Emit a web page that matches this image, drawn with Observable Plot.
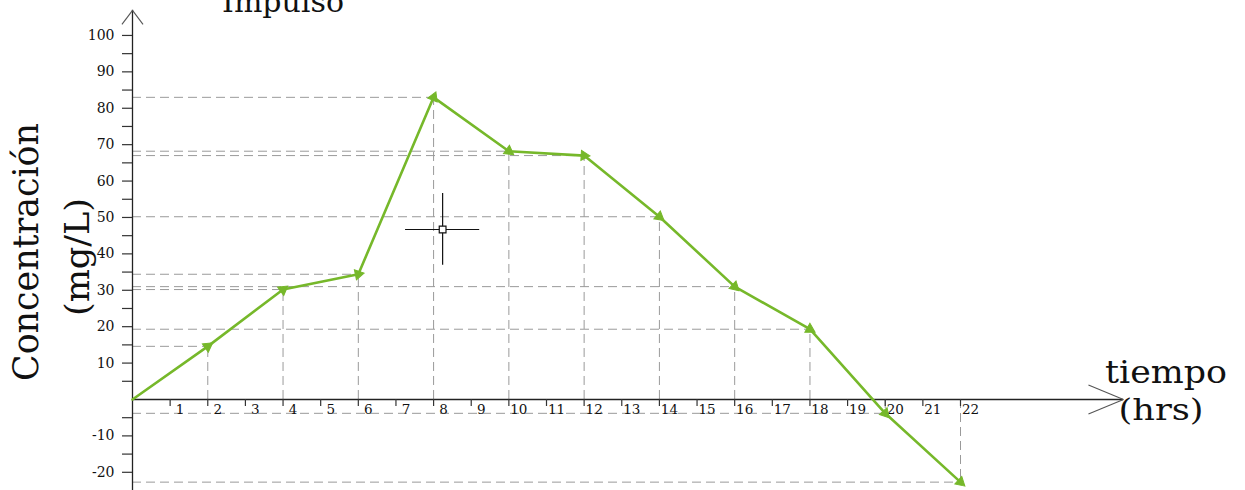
<!DOCTYPE html>
<html>
<head>
<meta charset="utf-8">
<script src="https://cdn.jsdelivr.net/npm/d3@7"></script>
<script src="https://cdn.jsdelivr.net/npm/@observablehq/plot@0.6"></script>
<style>
  html, body { margin: 0; padding: 0; background: #fff; }
  #chart { position: relative; width: 1245px; height: 490px; overflow: hidden; }
  #chart svg { display: block; }
</style>
</head>
<body>
<div id="chart"></div>
<script>
// ---- data ----
const times = [0, 2, 4, 6, 8, 10, 12, 14, 16, 18, 20, 22];
const conc  = [0, 14.6, 30.2, 34.4, 83, 68.2, 67, 50.2, 31, 19.3, -3.8, -22.7];
const xTickValues = [1,2,3,4,5,6,7,8,9,10,11,12,13,14,15,16,17,18,19,20,21,22];
const yLabelValues = [-20, -10, 10, 20, 30, 40, 50, 60, 70, 80, 90, 100];
const yTickValues = [-20, -15, -10, -5, 5, 10, 15, 20, 25, 30, 35, 40, 45, 50, 55, 60, 65, 70, 75, 80, 85, 90, 95, 100];
const cursorPos = [{x: 8.24, y: 46.7}];

// ---- layout constants ----
const W = 1245, H = 490;
const xDomain = [0, 22], yDomain = [-25, 109.6];
const mLeft = 132, mRight = 285;
const xAxisEnd = 26.33, yAxisTop = 106.9;
const green = "#76b82a";
const font = "DejaVu Serif";

const xPx = (W - mLeft - mRight) / (xDomain[1] - xDomain[0]);
const yPx = H / (yDomain[1] - yDomain[0]);

const points = times.map((t, i) => {
  let rot = 0;
  if (i > 0) {
    const dx = (t - times[i - 1]) * xPx;
    const dy = (conc[i] - conc[i - 1]) * yPx;
    rot = 90 - Math.atan2(dy, dx) * 180 / Math.PI;
  }
  return {t, c: conc[i], rot};
});
const guided = points.slice(1);

const arrowLinks = [
  {x1: xAxisEnd - 0.93, y1: 4.0, x2: xAxisEnd, y2: 0},
  {x1: xAxisEnd - 0.93, y1: -4.0, x2: xAxisEnd, y2: 0},
  {x1: -0.28, y1: yAxisTop - 3.85, x2: 0, y2: yAxisTop},
  {x1: 0.28, y1: yAxisTop - 3.85, x2: 0, y2: yAxisTop}
];

const dash = "9,5";
const guideColor = "#9a9a9a";

const plot = Plot.plot({
  width: W,
  height: H,
  marginLeft: mLeft,
  marginRight: mRight,
  marginTop: 0,
  marginBottom: 0,
  style: {fontFamily: font, background: "white", overflow: "hidden"},
  x: {domain: xDomain, axis: null},
  y: {domain: yDomain, axis: null},
  marks: [
    Plot.ruleY(guided, {y: "c", x1: 0, x2: "t", stroke: guideColor, strokeWidth: 1, strokeDasharray: dash}),
    Plot.ruleX(guided, {x: "t", y1: 0, y2: "c", stroke: guideColor, strokeWidth: 1, strokeDasharray: dash}),
    Plot.ruleY([0], {x1: 0, x2: xAxisEnd, stroke: "#222", strokeWidth: 1.3}),
    Plot.ruleX([0], {y1: yDomain[0], y2: yAxisTop, stroke: "#222", strokeWidth: 1.3}),
    Plot.link(arrowLinks, {x1: "x1", y1: "y1", x2: "x2", y2: "y2", stroke: "#555", strokeWidth: 1.1}),
    Plot.ruleY(yTickValues, {y: d => d, x1: 0, x2: -10 / xPx, stroke: "#333", strokeWidth: 1.2}),
    Plot.text(yLabelValues, {x: 0, y: d => d, text: d => String(d), textAnchor: "end", dx: -18, fontSize: 14, fill: "#111"}),
    Plot.ruleX(xTickValues, {x: d => d, y1: 0, y2: -7 / yPx, stroke: "#333", strokeWidth: 1.2}),
    Plot.text(xTickValues, {x: d => d, y: 0, text: d => String(d), dx: 10, dy: 10, fontSize: 13.5, fill: "#111"}),
    Plot.line(points, {x: "t", y: "c", stroke: green, strokeWidth: 2.6, strokeLinejoin: "round"}),
    Plot.dot(guided, {x: "t", y: "c", symbol: "triangle", r: 3.8, fill: green, stroke: green, strokeWidth: 1, rotate: "rot"}),
    Plot.ruleY(cursorPos, {y: "y", x1: d => d.x - 0.985, x2: d => d.x + 0.985, stroke: "#111", strokeWidth: 1.2}),
    Plot.ruleX(cursorPos, {x: "x", y1: d => d.y - 9.85, y2: d => d.y + 9.85, stroke: "#111", strokeWidth: 1.2}),
    Plot.dot(cursorPos, {x: "x", y: "y", symbol: "square", r: 3.8, fill: "white", stroke: "#111", strokeWidth: 1.2})
  ]
});

document.getElementById("chart").appendChild(plot);

// ---- annotation texts ----
const svg = d3.select(plot);
const g = svg.append("g").attr("font-family", font).attr("fill", "#111");
g.append("text").attr("transform", "translate(38,252) rotate(-90)").attr("text-anchor", "middle")
  .attr("font-size", 35).attr("textLength", 258).attr("lengthAdjust", "spacingAndGlyphs").text("Concentración");
g.append("text").attr("transform", "translate(89,257) rotate(-90)").attr("text-anchor", "middle")
  .attr("font-size", 33).attr("textLength", 118).attr("lengthAdjust", "spacingAndGlyphs").text("(mg/L)");
g.append("text").attr("x", 1166).attr("y", 383).attr("text-anchor", "middle")
  .attr("font-size", 31).attr("textLength", 122).attr("lengthAdjust", "spacingAndGlyphs").text("tiempo");
g.append("text").attr("x", 1161).attr("y", 420).attr("text-anchor", "middle")
  .attr("font-size", 30).attr("textLength", 85).attr("lengthAdjust", "spacingAndGlyphs").text("(hrs)");
g.append("text").attr("x", 283).attr("y", 12).attr("text-anchor", "middle")
  .attr("font-size", 30).text("Impulso");
</script>
</body>
</html>
